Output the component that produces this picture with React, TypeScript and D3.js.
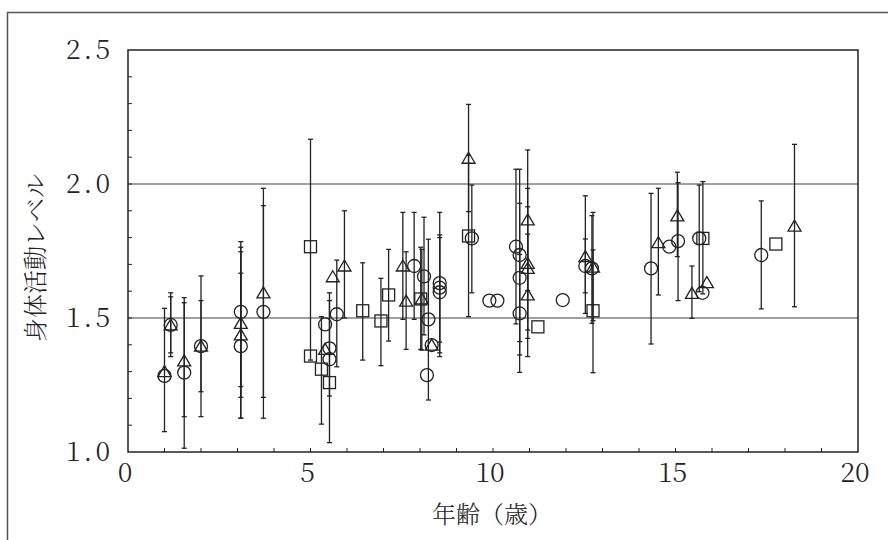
import React, { useEffect, useRef } from "react";
import * as d3 from "d3";

// [age, PAL, lower, upper]  (null = no error bar)
const circles: (number | null)[][] = [
  [1.0, 1.284, null, null],
  [1.17, 1.474, 1.37, 1.579],
  [1.54, 1.296, 1.014, 1.576],
  [2.0, 1.395, 1.225, 1.565],
  [3.09, 1.523, 1.244, 1.785],
  [3.09, 1.395, 1.126, 1.667],
  [3.71, 1.523, 1.126, 1.919],
  [5.4, 1.476, null, null],
  [5.52, 1.387, 1.209, 1.565],
  [5.52, 1.346, 1.035, 1.594],
  [5.72, 1.514, 1.318, 1.716],
  [7.84, 1.694, 1.495, 1.894],
  [8.11, 1.655, 1.437, 1.876],
  [8.23, 1.495, 1.194, 1.794],
  [8.19, 1.287, null, null],
  [8.32, 1.399, null, null],
  [8.54, 1.63, 1.37, 1.894],
  [8.54, 1.613, 1.41, 1.81],
  [8.54, 1.596, 1.356, 1.8],
  [9.42, 1.797, 1.594, 1.996],
  [9.9, 1.565, null, null],
  [10.12, 1.565, null, null],
  [10.63, 1.766, 1.478, 2.055],
  [10.73, 1.735, 1.412, 2.055],
  [10.73, 1.65, 1.362, 1.928],
  [10.73, 1.517, 1.297, 1.737],
  [11.91, 1.567, null, null],
  [12.53, 1.694, 1.594, 1.795],
  [12.71, 1.685, 1.48, 1.882],
  [14.33, 1.685, 1.403, 1.965],
  [14.83, 1.766, null, null],
  [15.07, 1.787, 1.565, 2.005],
  [15.65, 1.797, 1.598, 1.996],
  [15.74, 1.594, null, null],
  [17.35, 1.735, 1.534, 1.937],
];

const triangles: (number | null)[][] = [
  [1.0, 1.3, 1.076, 1.536],
  [1.17, 1.474, 1.356, 1.594],
  [1.54, 1.34, 1.132, 1.557],
  [2.0, 1.395, 1.132, 1.657],
  [3.09, 1.48, 1.204, 1.764],
  [3.09, 1.437, 1.126, 1.747],
  [3.71, 1.594, 1.204, 1.984],
  [5.4, 1.383, null, null],
  [5.61, 1.654, null, null],
  [5.93, 1.694, 1.5, 1.9],
  [7.53, 1.694, 1.495, 1.894],
  [7.62, 1.563, 1.383, 1.747],
  [8.05, 1.571, 1.38, 1.756],
  [8.32, 1.399, null, null],
  [9.33, 2.096, 1.897, 2.297],
  [10.95, 1.866, 1.602, 2.127],
  [10.95, 1.704, 1.455, 1.984],
  [10.95, 1.685, 1.424, 1.915],
  [10.95, 1.586, 1.356, 1.813],
  [12.53, 1.729, 1.517, 1.956],
  [12.74, 1.69, 1.49, 1.894],
  [14.53, 1.781, 1.586, 1.984],
  [15.05, 1.881, 1.729, 2.044],
  [15.45, 1.592, 1.499, 1.694],
  [15.86, 1.632, null, null],
  [18.26, 1.843, 1.542, 2.148],
];

const squares: (number | null)[][] = [
  [5.0, 1.766, 1.343, 2.167],
  [5.0, 1.358, null, null],
  [5.3, 1.309, 1.104, 1.505],
  [5.52, 1.259, null, null],
  [6.43, 1.527, 1.343, 1.706],
  [6.93, 1.489, 1.322, 1.648],
  [7.14, 1.586, 1.414, 1.756],
  [8.02, 1.571, 1.383, 1.764],
  [9.33, 1.806, 1.505, 2.107],
  [11.23, 1.467, null, null],
  [12.74, 1.527, 1.296, 1.754],
  [15.75, 1.797, 1.59, 2.009],
  [17.75, 1.776, null, null],
];

const xTickLabels = [0, 5, 10, 15, 20];
const yTickLabels = [1.0, 1.5, 2.0, 2.5];
const gridValues = [1.5, 2.0];

export default function App() {
  const svgRef = useRef<SVGSVGElement>(null);

  useEffect(() => {
    const width = 888;
    const height = 540;
    const plot = { left: 128, right: 858, top: 50, bottom: 452 };
    const ink = "#222";
    const mincho = `"Noto Serif CJK JP", "Liberation Serif", serif`;

    const svg = d3.select(svgRef.current).attr("width", width).attr("height", height);
    svg.selectAll("*").remove();

    const x = d3.scaleLinear().domain([0, 20]).range([plot.left, plot.right]);
    const y = d3.scaleLinear().domain([1.0, 2.5]).range([plot.bottom, plot.top]);

    // outer frame (top and left only)
    svg.append("path")
      .attr("d", `M7.5,540 V12.5 H888`)
      .attr("fill", "none")
      .attr("stroke", "#555")
      .attr("stroke-width", 1.5);

    // grid lines
    svg.selectAll(".grid")
      .data(gridValues)
      .enter()
      .append("line")
      .attr("x1", plot.left)
      .attr("x2", plot.right)
      .attr("y1", (d) => y(d))
      .attr("y2", (d) => y(d))
      .attr("stroke", "#808080")
      .attr("stroke-width", 1.5);

    // minor ticks, inward
    svg.selectAll(".xt")
      .data(d3.range(1, 20))
      .enter()
      .append("line")
      .attr("x1", (d) => x(d))
      .attr("x2", (d) => x(d))
      .attr("y1", plot.bottom)
      .attr("y2", plot.bottom - 4)
      .attr("stroke", ink)
      .attr("stroke-width", 1);

    svg.selectAll(".yt")
      .data(d3.range(1, 15).map((i) => 1 + i * 0.1))
      .enter()
      .append("line")
      .attr("x1", plot.left)
      .attr("x2", plot.left + 4)
      .attr("y1", (d) => y(d))
      .attr("y2", (d) => y(d))
      .attr("stroke", ink)
      .attr("stroke-width", 1);

    // plot border
    svg.append("rect")
      .attr("x", plot.left)
      .attr("y", plot.top)
      .attr("width", plot.right - plot.left)
      .attr("height", plot.bottom - plot.top)
      .attr("fill", "none")
      .attr("stroke", ink)
      .attr("stroke-width", 1.5);

    // tick labels
    svg.selectAll(".xl")
      .data(xTickLabels)
      .enter()
      .append("text")
      .attr("x", (d) => x(d) - 3)
      .attr("y", 482)
      .attr("text-anchor", "middle")
      .style("font-family", mincho)
      .attr("font-weight", 300)
      .attr("font-size", 27)
      .attr("fill", ink)
      .text((d) => d);

    svg.selectAll(".yl")
      .data(yTickLabels)
      .enter()
      .append("text")
      .attr("x", 113)
      .attr("y", (d) => y(d) + 9)
      .attr("text-anchor", "end")
      .style("font-family", mincho)
      .attr("font-weight", 300)
      .attr("font-size", 27)
      .attr("letter-spacing", 3)
      .attr("fill", ink)
      .text((d) => d.toFixed(1));

    // axis titles
    svg.append("text")
      .attr("x", 492)
      .attr("y", 523)
      .attr("text-anchor", "middle")
      .style("font-family", mincho)
      .attr("font-weight", 300)
      .attr("font-size", 24)
      .attr("fill", ink)
      .text("年齢（歳）");

    svg.append("text")
      .attr("transform", `translate(44, 258) rotate(-90)`)
      .attr("text-anchor", "middle")
      .style("font-family", mincho)
      .attr("font-weight", 300)
      .attr("font-size", 24)
      .attr("fill", ink)
      .text("身体活動レベル");

    const all = [...circles, ...triangles, ...squares].filter((d) => d[2] != null);

    // error bars
    const bars = svg.append("g").attr("stroke", ink).attr("stroke-width", 1.3);
    all.forEach((d) => {
      const cx = x(d[0] as number);
      const lo = y(d[2] as number);
      const hi = y(d[3] as number);
      bars.append("line").attr("x1", cx).attr("x2", cx).attr("y1", lo).attr("y2", hi);
      bars.append("line").attr("x1", cx - 2.5).attr("x2", cx + 2.5).attr("y1", lo).attr("y2", lo);
      bars.append("line").attr("x1", cx - 2.5).attr("x2", cx + 2.5).attr("y1", hi).attr("y2", hi);
    });

    const marks = svg.append("g")
      .attr("fill", "none")
      .attr("stroke", ink)
      .attr("stroke-width", 1.3);

    marks.selectAll(".c")
      .data(circles)
      .enter()
      .append("circle")
      .attr("cx", (d) => x(d[0] as number))
      .attr("cy", (d) => y(d[1] as number))
      .attr("r", 6.5);

    marks.selectAll(".t")
      .data(triangles)
      .enter()
      .append("path")
      .attr("d", (d) => {
        const cx = x(d[0] as number);
        const cy = y(d[1] as number);
        return `M${cx},${cy - 6} L${cx + 6.5},${cy + 5} L${cx - 6.5},${cy + 5} Z`;
      });

    marks.selectAll(".s")
      .data(squares)
      .enter()
      .append("rect")
      .attr("x", (d) => x(d[0] as number) - 6)
      .attr("y", (d) => y(d[1] as number) - 6)
      .attr("width", 12)
      .attr("height", 12);
  }, []);

  return (
    <div style={{ position: "absolute", left: 0, top: 0, background: "#fff" }}>
      <svg ref={svgRef}></svg>
    </div>
  );
}
